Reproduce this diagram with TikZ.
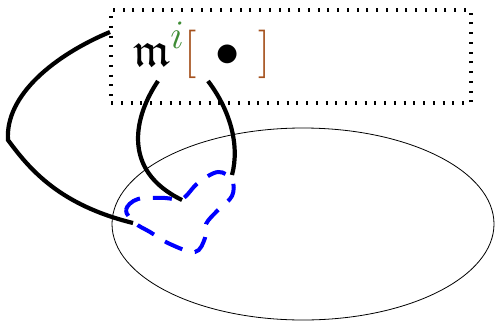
\documentclass[tikz,border=0pt]{standalone}
\usepackage{amsmath,amssymb}
\usepackage{tikz}
\definecolor{supgreen}{RGB}{62,140,52}
\definecolor{brkbrown}{RGB}{165,82,30}

\begin{document}
\begin{tikzpicture}[x=1pt, y=-1pt,
  strand/.style={line width=4.2pt},
  holeline/.style={blue, line width=4pt, dash pattern=on 19pt off 13pt},
  frame/.style={line width=3.2pt, dash pattern=on 2pt off 7.75pt}]
\useasboundingbox (0,0) rectangle (495,324);
\node[frame, draw, minimum width=360pt, minimum height=93pt, inner sep=0pt] (box) at (291,56.5) {};
\node[inner sep=0pt, scale=1.95, font=\Huge] (lbl) at (202,50)
  {$\mathfrak{m}^{\textcolor{supgreen}{i}}\textcolor{brkbrown}{[}\,\bullet\,\textcolor{brkbrown}{]}$};
\draw[line width=0.8pt] (303,224) ellipse (191 and 96);
\draw[holeline] plot[smooth cycle, tension=0.6] coordinates {(135,223) (126,210) (138,199) (165,198) (182,199)
  (198,183) (218,172) (232,180) (232,196) (218,210) (206,224) (205,238) (195,252) (170,244) (150,232)};
\coordinate (a1) at (110,32);
\coordinate (b1) at (133,223);
\coordinate (a2) at (158,81);
\coordinate (b2) at (182,200);
\coordinate (a3) at (208,81);
\coordinate (b3) at (232,175);
\draw[strand] (a1) .. controls (55,55) and (5,95) .. (8,140) .. controls (30,170) and (60,205) .. (b1);
\draw[strand] (a2) .. controls (135,115) and (120,170) .. (b2);
\draw[strand] (a3) .. controls (230,110) and (240,145) .. (b3);
\end{tikzpicture}
\end{document}
